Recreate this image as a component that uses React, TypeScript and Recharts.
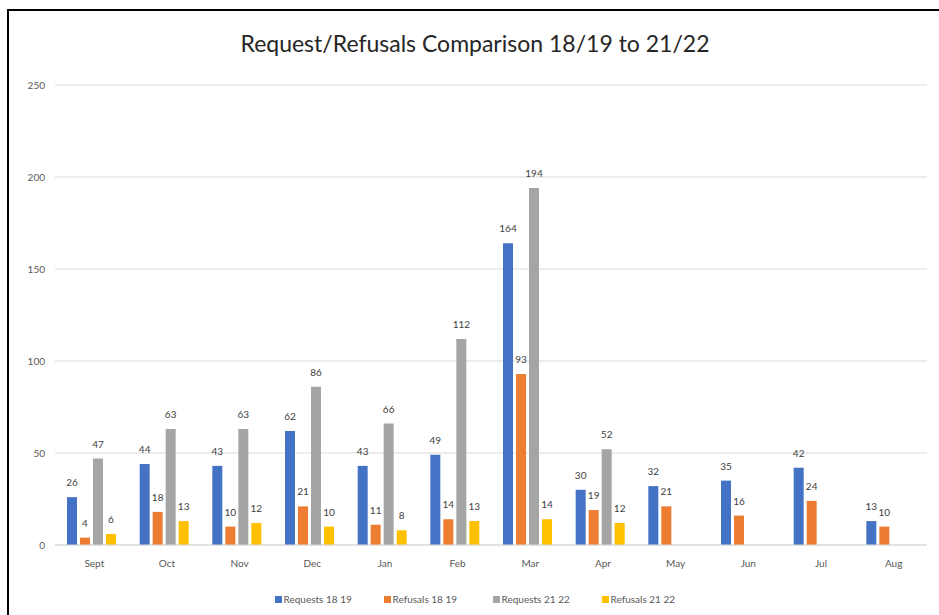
import { BarChart, Bar, XAxis, YAxis, CartesianGrid, Legend, LabelList } from "recharts";

const months = ["Sept", "Oct", "Nov", "Dec", "Jan", "Feb", "Mar", "Apr", "May", "Jun", "Jul", "Aug"];
const requests1819 = [26, 44, 43, 62, 43, 49, 164, 30, 32, 35, 42, 13];
const refusals1819 = [4, 18, 10, 21, 11, 14, 93, 19, 21, 16, 24, 10];
const requests2122 = [47, 63, 63, 86, 66, 112, 194, 52, null, null, null, null];
const refusals2122 = [6, 13, 12, 10, 8, 13, 14, 12, null, null, null, null];
const yTicks = [0, 50, 100, 150, 200, 250];

const series = [
  { key: "req1819", name: "Requests 18 19", color: "#4472C4", values: requests1819 },
  { key: "ref1819", name: "Refusals 18 19", color: "#ED7D31", values: refusals1819 },
  { key: "req2122", name: "Requests 21 22", color: "#A5A5A5", values: requests2122 },
  { key: "ref2122", name: "Refusals 21 22", color: "#FFC000", values: refusals2122 },
];

const data = months.map((month, i) => {
  const row: Record<string, string | number | null> = { month };
  series.forEach((s) => {
    row[s.key] = s.values[i];
  });
  return row;
});

const FONT = "Lato, 'Open Sans', sans-serif";

function renderLegend() {
  return (
    <div style={{ display: "flex", justifyContent: "center", paddingTop: 18, paddingLeft: 58 }}>
      {series.map((s) => (
        <div key={s.key} style={{ display: "flex", alignItems: "center", width: 109, fontSize: 10, color: "#595959", fontFamily: FONT }}>
          <span style={{ width: 7, height: 7, background: s.color, marginRight: 2, display: "inline-block" }} />
          {s.name}
        </div>
      ))}
    </div>
  );
}

// plain grey value labels above each bar
function ValueLabel(props: any) {
  const { x, y, width, value } = props;
  if (value === null || value === undefined) return null;
  return (
    <text
      x={Number(x) + Number(width) / 2}
      y={Number(y) - 11}
      textAnchor="middle"
      fill="#404040"
      fontSize={10}
      fontFamily={FONT}
    >
      {value}
    </text>
  );
}

export default function App() {
  return (
    <div style={{ position: "absolute", left: 0, top: 0, width: 939, height: 615, background: "#fff", overflow: "hidden" }}>
      <div style={{ position: "absolute", left: 7, top: 9, width: 960, height: 640, borderLeft: "2px solid #000", borderTop: "2px solid #000" }} />
      <div style={{ position: "absolute", left: 0, top: 29, width: 950, textAlign: "center", fontFamily: FONT, fontSize: 23, color: "#262626" }}>
        Request/Refusals Comparison 18/19 to 21/22
      </div>
      <BarChart
        width={939}
        height={615}
        data={data}
        margin={{ top: 85, right: 12, bottom: 10, left: 0 }}
        barSize={10}
        barGap={3}
        style={{ position: "absolute", left: 0, top: 0 }}
      >
        <CartesianGrid vertical={false} stroke="#d9d9d9" />
        <XAxis
          dataKey="month"
          height={30}
          tickLine={false}
          axisLine={{ stroke: "#d9d9d9" }}
          tickMargin={9}
          tick={{ fontSize: 10, fill: "#595959", fontFamily: FONT, dx: 3 }}
        />
        <YAxis
          width={55}
          domain={[0, 250]}
          ticks={yTicks}
          tickLine={false}
          axisLine={false}
          tickMargin={4}
          tick={{ fontSize: 10, fill: "#595959", fontFamily: FONT }}
        />
        <Legend verticalAlign="bottom" height={30} content={renderLegend} />
        {series.map((s) => (
          <Bar key={s.key} dataKey={s.key} name={s.name} fill={s.color} isAnimationActive={false}>
            <LabelList dataKey={s.key} content={ValueLabel} />
          </Bar>
        ))}
      </BarChart>
    </div>
  );
}
